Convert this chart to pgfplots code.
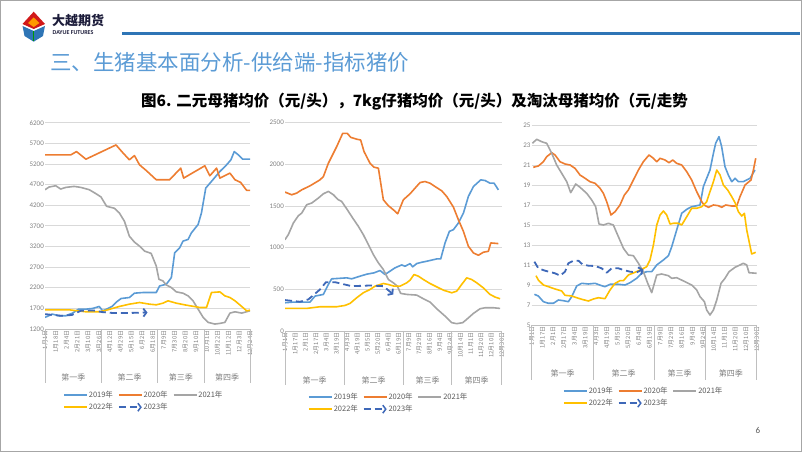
\documentclass[border=0pt]{standalone}
\usepackage{fontspec}
\usepackage{pgfplots}
\pgfplotsset{compat=1.18}
\usetikzlibrary{arrows.meta}
\setmainfont{Carlito}
\newfontfamily\cjk{Noto Sans CJK SC}
\definecolor{c19}{HTML}{5B9BD5}
\definecolor{c20}{HTML}{ED7D31}
\definecolor{c21}{HTML}{A5A5A5}
\definecolor{c22}{HTML}{FFC000}
\definecolor{c23}{HTML}{3E68B8}
\definecolor{gridc}{HTML}{D9D9D9}
\definecolor{axc}{HTML}{BFBFBF}
\definecolor{tickc}{HTML}{808080}
\definecolor{legc}{HTML}{595959}
\definecolor{headc}{HTML}{5B9BD5}
\definecolor{rulec}{HTML}{2E75B6}
\definecolor{framec}{HTML}{A6A6A6}
\definecolor{logoc}{HTML}{1C1C3A}
\pgfplotsset{
 legend image code/.code={\draw[#1] (0pt,0pt) -- (23pt,0pt);},
 slide/.style={
   scale only axis, anchor=south west,
   axis line style={draw=none}, major tick style={draw=none},
   ymajorgrids, grid style={gridc, line width=0.7pt},
   /pgf/number format/assume math mode=true, /pgf/number format/1000 sep={},
   scaled y ticks=false,
   yticklabel style={font=\fontsize{7}{8}\selectfont, text=tickc, inner sep=1pt},
   xticklabel style={rotate=90, anchor=east, font=\cjk\fontsize{5.9}{6}\selectfont, text=tickc, inner sep=1.5pt},
   legend style={draw=none, fill=none, inner sep=0pt, legend columns=3, font=\cjk\fontsize{7.5}{8}\selectfont, text=legc, anchor=north west, /tikz/every even column/.append style={column sep=4pt}, row sep=2.2pt, nodes={inner sep=1pt}},
   legend cell align=left,
   every axis plot/.append style={line width=1.6pt, line join=round, no marks},
 },
 arrowplot/.style={c23, line width=1.8pt, dash pattern=on 7pt off 4pt, -{Straight Barb[length=3pt,width=8pt]},
   legend image code/.code={\draw[c23, line width=1.5pt, -{Straight Barb[length=3pt,width=8pt]}] (0pt,0pt) -- (23pt,0pt);}},
}
\begin{document}
\begin{tikzpicture}[x=1pt,y=1pt]
\useasboundingbox (0,0) rectangle (802,452);
\draw[framec, line width=1pt] (0.5,0.5) rectangle (801.5,451.5);
% logo
\fill[red!80!black!90] (22.5,428) -- (33.7,440.3) -- (45,428) -- (33.7,423) -- cycle;
\fill[orange!80!yellow] (28,429) -- (33.7,434.5) -- (39.5,429) -- (33.7,425) -- cycle;
\fill[rulec] (22.5,426) -- (33.7,421) -- (45,426) -- (43,416) -- (33.7,410.3) -- (24.5,416) -- cycle;
\draw[green!60!black, line width=1pt] (33.7,421) -- (33.7,410.5);
\node[anchor=west, font=\cjk\bfseries\fontsize{13}{13}\selectfont, text=logoc, inner sep=0] at (52,431) {大越期货};
\node[anchor=west, font=\bfseries\fontsize{6}{6}\selectfont, text=logoc, inner sep=0] at (52.5,419) {DAYUE FUTURES};
\draw[rulec, line width=3pt] (122,418) -- (800,418);
\node[anchor=west, font=\cjk\fontsize{21.5}{22}\selectfont, text=headc, inner sep=0] at (50,389.5) {三、生猪基本面分析-供给端-指标猪价};
\node[font=\cjk\bfseries\fontsize{15.5}{16}\selectfont, inner sep=0] at (414.5,350) {图6. 二元母猪均价（元/头），7kg仔猪均价（元/头）及淘汰母猪均价（元/走势};
\node[font=\fontsize{9}{9}\selectfont, text=legc] at (758,22) {6};

% ===== Chart 1 =====
\begin{axis}[slide, at={(45pt,123pt)}, width=205pt, height=206.3pt,
  xmin=0, xmax=19, ymin=1200, ymax=6200, ytick={1200,1700,...,6200},
  xtick={0,...,19},
  xticklabels={1月1日,1月18日,2月4日,2月21日,3月10日,3月26日,4月12日,4月29日,5月15日,6月2日,6月18日,7月9日,7月30日,8月20日,9月10日,10月1日,10月22日,11月12日,12月3日,12月24日},
  legend style={at={(0.088,-0.296)}}]
\addplot[c19] coordinates {(0,1481)(0.68,1561)(1.30,1521)(1.93,1521)(2.55,1585)(3.11,1681)(3.79,1681)(4.41,1698)(5.03,1746)(5.34,1641)(5.71,1681)(6.21,1746)(6.64,1858)(7.05,1939)(7.82,1963)(8.29,2068)(9.07,2084)(10.31,2084)(10.62,2244)(11.24,2284)(11.71,2445)(12.02,3048)(12.48,3169)(12.79,3330)(13.26,3370)(13.57,3531)(14.19,3732)(14.50,4013)(14.90,4616)(15.43,4777)(16.21,5018)(16.83,5179)(17.23,5300)(17.54,5500)(17.92,5420)(18.32,5316)(19,5316)};
\addlegendentry{2019年}
\addplot[c20] coordinates {(0,5420)(2.39,5420)(2.92,5500)(3.79,5316)(6.58,5661)(7.20,5476)(7.82,5300)(8.29,5404)(8.76,5179)(9.38,5042)(10.31,4817)(11.55,4817)(12.58,5099)(12.85,4857)(14.81,5155)(15.28,4914)(15.90,5099)(16.21,4857)(17.14,4978)(17.61,4817)(18.13,4753)(18.69,4560)(19,4560)};
\addlegendentry{2020年}
\addplot[c21] coordinates {(0,4576)(0.37,4640)(0.99,4672)(1.46,4592)(1.93,4632)(2.70,4656)(3.32,4632)(4.10,4576)(4.72,4480)(5.19,4399)(5.71,4174)(6.43,4126)(6.89,4013)(7.36,3812)(7.82,3450)(8.29,3306)(8.76,3209)(9.22,3089)(9.84,3032)(10.31,2727)(10.56,2405)(10.93,2365)(11.24,2268)(11.71,2204)(12.17,2100)(12.79,2068)(13.26,2003)(13.72,1883)(14.19,1681)(14.66,1481)(15.12,1360)(15.74,1320)(16.21,1336)(16.67,1360)(17.14,1585)(17.61,1617)(18.23,1585)(19,1641)};
\addlegendentry{2021年}
\addplot[c22] coordinates {(0,1665)(2.24,1665)(3.79,1617)(5.03,1617)(5.71,1657)(6.89,1746)(7.82,1802)(8.76,1842)(9.69,1802)(10.31,1786)(10.93,1826)(11.40,1883)(12.17,1826)(13.10,1778)(14.35,1722)(14.97,1722)(15.43,2084)(16.21,2100)(16.67,2003)(17.14,1963)(17.61,1883)(18.23,1746)(18.69,1641)(19,1657)};
\addlegendentry{2022年}
\addplot[arrowplot] coordinates {(0,1560)(1.5,1520)(2.5,1540)(3.3,1640)(4.5,1650)(5.3,1610)(6.2,1590)(8,1590)(9.5,1600)};
\addlegendentry{2023年}
\end{axis}
\draw[axc, line width=0.7pt] (45,123) -- (250,123);
\foreach \x in {45,101.7,157.3,204.3,250} \draw[axc, line width=0.6pt] (\x,123) -- (\x,69);
\foreach \x/\t in {73.4/第一季,129.5/第二季,180.8/第三季,227/第四季} \node[font=\cjk\fontsize{8}{9}\selectfont, text=tickc] at (\x,75) {\t};

% ===== Chart 2 =====
\begin{axis}[slide, at={(285pt,121pt)}, width=216.7pt, height=208.3pt,
  xmin=0, xmax=21, ymin=0, ymax=2500, ytick={0,500,...,2500},
  xtick={0,...,21},
  xticklabels={1月1日,1月17日,2月1日,2月17日,3月4日,3月19日,4月3日,4月19日,5月5日,5月20日,6月4日,6月19日,7月9日,7月29日,8月16日,9月4日,9月24日,10月14日,11月1日,11月20日,12月10日,12月30日},
  legend style={at={(0.106,-0.293)}}]
\addplot[c19] coordinates {(0,339)(0.81,347)(2.42,347)(2.91,419)(3.72,439)(4.20,558)(4.52,626)(5.98,638)(6.46,626)(7.27,658)(7.92,682)(8.63,698)(9.21,726)(9.69,678)(10.18,718)(10.66,758)(11.31,793)(11.63,777)(12.12,809)(12.37,770)(12.76,809)(13.25,825)(13.73,837)(14.70,865)(15.09,865)(15.51,1057)(15.93,1196)(16.32,1216)(16.80,1296)(17.29,1415)(17.77,1615)(18.26,1734)(18.97,1814)(19.39,1806)(19.87,1774)(20.26,1774)(20.68,1694)};
\addlegendentry{2019年}
\addplot[c20] coordinates {(0,1667)(0.65,1635)(1.13,1655)(1.62,1694)(2.42,1742)(3.39,1814)(3.72,1854)(4.20,2013)(5.01,2213)(5.59,2372)(6.04,2372)(6.37,2324)(7.01,2300)(7.33,2293)(7.66,2153)(8.24,2013)(8.63,1966)(9.05,1954)(9.53,1575)(10.02,1503)(10.50,1455)(10.92,1407)(11.47,1575)(12.12,1647)(12.60,1714)(13.09,1782)(13.57,1794)(14.05,1774)(14.54,1734)(15.19,1682)(15.67,1615)(16.32,1487)(16.80,1336)(17.29,1196)(17.77,1017)(18.26,937)(18.74,909)(19.22,945)(19.71,957)(19.94,1057)(20.68,1049)};
\addlegendentry{2020年}
\addplot[c21] coordinates {(0,1096)(0.32,1156)(0.81,1296)(1.29,1383)(1.62,1415)(2.10,1515)(2.58,1535)(3.23,1595)(3.72,1647)(4.20,1675)(4.69,1635)(5.17,1575)(5.49,1555)(6.04,1455)(6.56,1356)(7.11,1256)(7.59,1156)(8.08,1037)(8.56,917)(9.05,817)(9.53,738)(10.02,618)(10.50,578)(10.89,538)(11.21,451)(11.79,439)(12.76,431)(13.41,387)(14.05,347)(14.70,267)(15.51,179)(16.16,100)(16.64,88)(17.22,100)(17.61,140)(18.26,211)(18.90,267)(19.39,279)(20.19,279)(20.84,271)};
\addlegendentry{2021年}
\addplot[c22] coordinates {(0,271)(2.10,271)(3.39,291)(5.01,291)(5.82,307)(6.30,331)(6.95,399)(7.59,459)(8.24,498)(8.72,538)(9.53,570)(10.02,558)(10.57,538)(11.15,538)(11.79,578)(12.12,610)(12.50,678)(12.92,658)(13.41,618)(14.05,570)(14.70,530)(15.35,490)(16.16,459)(16.64,478)(17.12,558)(17.61,638)(18.09,618)(18.58,578)(19.22,518)(19.87,439)(20.36,407)(20.84,387)};
\addlegendentry{2022年}
\addplot[arrowplot] coordinates {(0,371)(1.45,351)(2.26,379)(3.39,498)(3.97,586)(4.85,586)(6.46,538)(8.24,546)(9.53,538)(10.50,439)};
\addlegendentry{2023年}
\end{axis}
\draw[axc, line width=0.7pt] (285,121) -- (501.7,121);
\foreach \x in {285,344,403.3,451.7,501.7} \draw[axc, line width=0.6pt] (\x,121) -- (\x,67);
\foreach \x/\t in {314.5/第一季,373.7/第二季,427.5/第三季,476.7/第四季} \node[font=\cjk\fontsize{8}{9}\selectfont, text=tickc] at (\x,72) {\t};

% ===== Chart 3 =====
\begin{axis}[slide, at={(531.7pt,127pt)}, width=225pt, height=200pt,
  xmin=0, xmax=21, ymin=5, ymax=25, ytick={5,7,...,25},
  xtick={0,...,21},
  xticklabels={1月1日,1月17日,2月1日,2月17日,3月4日,3月19日,4月3日,4月19日,5月5日,5月20日,6月4日,6月19日,7月9日,7月29日,8月16日,9月4日,9月24日,10月14日,11月1日,11月20日,12月10日,12月30日},
  legend style={at={(0.139,-0.305)}}]
\addplot[c19] coordinates {(0.25,8.07)(0.62,7.9)(1.09,7.33)(1.56,7.17)(2.02,7.17)(2.49,7.5)(2.96,7.43)(3.42,7.33)(3.73,7.83)(4.20,8.9)(4.67,9.17)(5.29,9.1)(5.91,9.17)(6.53,8.93)(6.84,8.83)(7.31,9.07)(8.09,9.07)(8.71,9.0)(9.18,9.23)(9.80,9.67)(10.27,10.17)(10.73,10.33)(11.20,10.33)(11.67,11.0)(12.29,11.5)(12.76,11.93)(13.07,12.83)(13.53,14.5)(14.0,16.17)(14.47,16.57)(14.93,16.83)(15.40,16.93)(15.71,17.0)(16.02,18.83)(16.33,19.67)(16.64,20.5)(16.96,22.17)(17.17,23.17)(17.48,23.83)(17.73,22.83)(18.04,20.83)(18.35,20.0)(18.67,19.33)(18.98,19.67)(19.29,19.33)(19.75,19.33)(20.38,19.67)(20.84,20.5)};
\addlegendentry{2019年}
\addplot[c20] coordinates {(0.15,20.77)(0.62,20.9)(1.09,21.33)(1.40,21.83)(1.87,22.23)(2.18,22.0)(2.64,21.33)(3.11,21.1)(3.58,21.0)(4.04,20.67)(4.51,20.0)(4.98,19.67)(5.44,19.33)(5.91,19.17)(6.38,18.67)(6.69,18.17)(7.00,17.33)(7.40,16.0)(7.78,16.33)(8.24,17.0)(8.65,18.0)(9.02,18.5)(9.49,19.5)(9.96,20.5)(10.42,21.33)(10.95,22.0)(11.36,21.67)(11.67,21.33)(11.98,21.67)(12.44,21.5)(12.82,21.23)(13.16,21.5)(13.53,21.17)(14.0,21.0)(14.47,20.33)(14.93,19.5)(15.40,18.33)(15.87,17.33)(16.08,17.0)(16.49,16.77)(16.96,17.0)(17.42,16.93)(17.73,16.77)(18.11,17.0)(18.67,16.9)(19.13,16.9)(19.44,17.83)(19.91,19.0)(20.47,19.5)(20.69,20.5)(20.91,21.67)};
\addlegendentry{2020年}
\addplot[c21] coordinates {(0.06,23.17)(0.47,23.57)(0.93,23.33)(1.40,23.17)(1.87,22.17)(2.33,21.0)(2.80,20.17)(3.27,19.33)(3.64,18.23)(4.11,19.1)(4.51,18.77)(5.13,18.17)(5.60,17.5)(5.97,16.83)(6.28,15.1)(6.69,15.0)(7.16,15.17)(7.62,15.0)(8.09,13.83)(8.56,12.67)(9.02,12.0)(9.49,11.93)(9.96,11.17)(10.42,10.33)(10.83,9.17)(11.20,8.23)(11.67,10.0)(12.13,10.1)(12.76,9.93)(13.07,9.67)(13.53,9.73)(14.31,9.33)(14.93,9.0)(15.40,8.5)(15.71,7.83)(16.12,7.33)(16.33,6.5)(16.64,6.0)(16.96,6.5)(17.27,7.5)(17.67,9.17)(18.04,9.67)(18.42,10.33)(18.98,10.77)(19.44,11.0)(19.75,11.17)(20.07,11.0)(20.28,10.23)(21,10.17)};
\addlegendentry{2021年}
\addplot[c22] coordinates {(0.40,9.93)(0.62,9.5)(1.09,9.0)(1.56,8.83)(2.18,8.6)(2.80,8.4)(3.11,7.97)(3.73,7.9)(4.20,7.73)(4.67,7.57)(5.29,7.4)(5.76,7.6)(6.22,7.73)(6.84,7.63)(7.31,8.5)(7.78,9.17)(8.24,9.43)(8.56,9.43)(9.02,10.0)(9.64,10.27)(10.27,10.57)(10.73,10.83)(11.04,11.5)(11.36,13.0)(11.67,15.0)(11.98,16.0)(12.29,16.4)(12.60,16.0)(12.91,15.1)(13.22,15.17)(13.69,15.17)(14.0,15.0)(14.47,15.83)(14.93,16.67)(15.40,16.67)(15.87,16.83)(16.33,17.33)(16.64,18.33)(16.96,19.33)(17.27,20.5)(17.58,20.0)(17.89,19.0)(18.29,18.5)(18.67,17.83)(18.98,17.23)(19.29,16.33)(19.60,15.9)(19.85,16.17)(20.07,14.5)(20.53,12.1)(20.91,12.27)};
\addlegendentry{2022年}
\addplot[arrowplot] coordinates {(0.25,11.33)(0.62,10.67)(1.24,10.43)(2.18,10.17)(2.64,9.93)(3.11,10.33)(3.42,11.17)(3.89,11.43)(4.36,11.43)(4.73,11.07)(5.29,10.93)(5.91,10.9)(6.53,10.67)(7.0,10.23)(7.47,10.67)(8.09,10.67)(8.56,10.5)(9.18,10.33)(9.80,10.27)(10.42,10.57)};
\addlegendentry{2023年}
\end{axis}
\draw[axc, line width=0.7pt] (531.7,127) -- (756.7,127);
\foreach \x in {531.7,593.3,654,705,756.7} \draw[axc, line width=0.6pt] (\x,127) -- (\x,72);
\foreach \x/\t in {562.5/第一季,623.7/第二季,679.5/第三季,730.8/第四季} \node[font=\cjk\fontsize{8}{9}\selectfont, text=tickc] at (\x,78.7) {\t};
\end{tikzpicture}
\end{document}
